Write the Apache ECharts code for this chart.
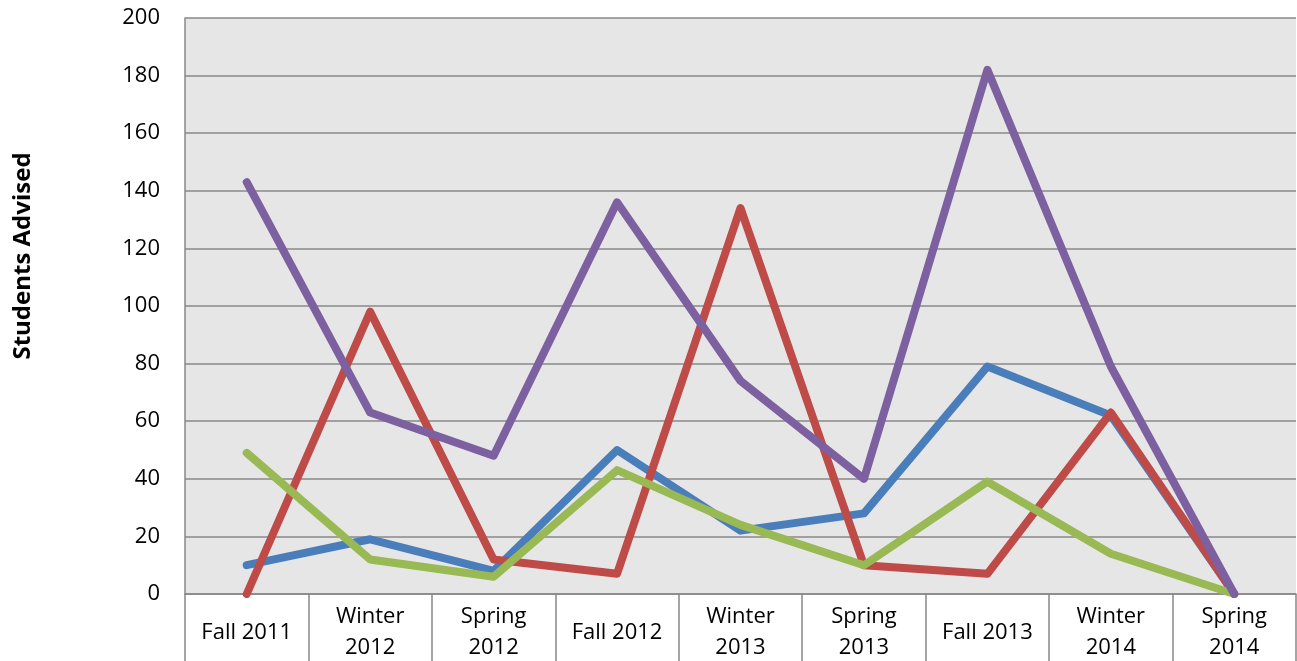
<!DOCTYPE html>
<html>
<head>
<meta charset="utf-8">
<script src="https://cdn.jsdelivr.net/npm/echarts@6/dist/echarts.min.js"></script>
<style>html,body{margin:0;padding:0;background:#fff;}#c{width:1297px;height:661px;}</style>
</head>
<body>
<div id="c"></div>
<script>
const categories = ["Fall 2011","Winter 2012","Spring 2012","Fall 2012","Winter 2013","Spring 2013","Fall 2013","Winter 2014","Spring 2014"];
const seriesBlue = [10, 19, 8, 50, 22, 28, 79, 62, 0];
const seriesRed = [0, 98, 12, 7, 134, 10, 7, 63, 0];
const seriesGreen = [49, 12, 6, 43, 24, 10, 39, 14, 0];
const seriesPurple = [143, 63, 48, 136, 74, 40, 182, 79, 0];
const yTitle = "Students Advised";

const chart = echarts.init(document.getElementById('c'));
const font = "'Open Sans', 'Noto Sans', sans-serif";
const mk = (name, data, color) => ({
  name, type: 'line', data, symbol: 'none', smooth: false,
  lineStyle: {width: 8, color, cap: 'round', join: 'round'},
  itemStyle: {color}
});
chart.setOption({
  animation: false,
  grid: {left: 185, top: 18, right: 1, bottom: 67, show: true, backgroundColor: '#e6e6e6', borderWidth: 0, outerBoundsMode: 'none', containLabel: false},
  graphic: [{
    type: 'text', x: 23, y: 256, rotation: Math.PI/2,
    style: {text: yTitle, font: "bold 24px 'Open Sans', 'Noto Sans', sans-serif", fill: '#000', align: 'center', verticalAlign: 'middle'}
  }],
  xAxis: {
    type: 'category', data: categories, boundaryGap: true,
    axisLine: {lineStyle: {color: '#888', width: 1.5}},
    axisTick: {show: true, length: 67, interval: 0, lineStyle: {color: '#888', width: 1.5}},
    axisLabel: {
      interval: 0, margin: 7, fontSize: 22, lineHeight: 31, color: '#000', fontFamily: font,
      formatter: v => v.startsWith('Fall') ? '{one|' + v + '}' : v.replace(' ', '\n'),
      rich: {one: {fontSize: 22, lineHeight: 31, fontFamily: font, color: '#000', padding: [32, 0, 0, 0]}}
    },
    splitLine: {show: false}
  },
  yAxis: {
    type: 'value', min: 0, max: 200, interval: 20,
    axisLine: {show: true, lineStyle: {color: '#888', width: 1.5}},
    axisTick: {show: false},
    axisLabel: {margin: 25, fontSize: 22, color: '#000', fontFamily: font},
    splitLine: {show: true, lineStyle: {color: '#888', width: 1.5}}
  },
  series: [
    mk('Series 1', seriesBlue, '#4a7ebb'),
    mk('Series 2', seriesRed, '#be4b48'),
    mk('Series 3', seriesGreen, '#98b954'),
    mk('Series 4', seriesPurple, '#7d60a0')
  ]
});
</script>
</body>
</html>
